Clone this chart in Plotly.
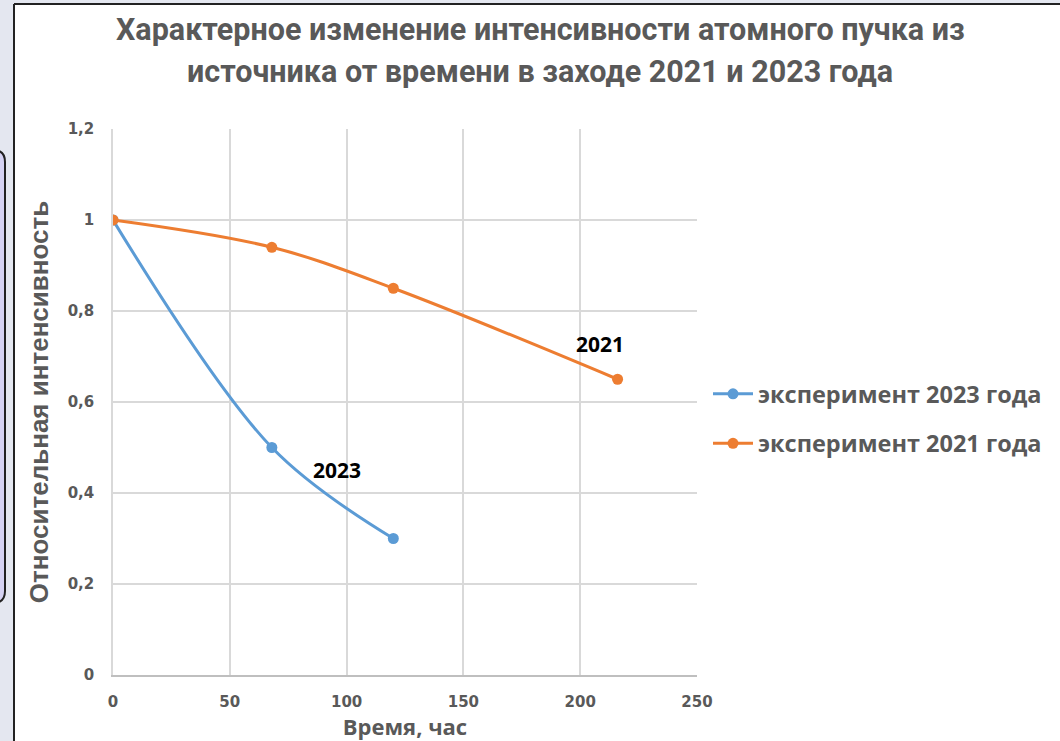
import plotly.graph_objects as go

# Data
hours_2023 = [0, 68, 120]
intensity_2023 = [1.0, 0.5, 0.3]
hours_2021 = [0, 68, 120, 216]
intensity_2021 = [1.0, 0.94, 0.85, 0.65]
name_2023 = "эксперимент 2023 года"
name_2021 = "эксперимент 2021 года"
title_lines = ["Характерное изменение интенсивности атомного пучка из",
               "источника от времени в заходе 2021 и 2023 года"]
x_title = "Время, час"
y_title = "Относительная интенсивность"
x_ticks = [0, 50, 100, 150, 200, 250]
y_ticks = [0, 0.2, 0.4, 0.6, 0.8, 1.0, 1.2]

W, H = 1060, 741
ML, MR, MT, MB = 113, 363, 129, 66
PW, PH = W - ML - MR, H - MT - MB

def fx(px):
    return (px - ML) / PW

def fy(py):
    return (H - MB - py) / PH

BLUE = "#5b9bd5"
ORANGE = "#ed7d31"
GRAY = "#595959"

fig = go.Figure()
fig.add_trace(go.Scatter(x=hours_2023, y=intensity_2023, name=name_2023, mode="lines+markers",
                         legendgroup="a",
                         line=dict(color=BLUE, width=3, shape="spline", smoothing=1.0),
                         marker=dict(size=11, color=BLUE)))
fig.add_trace(go.Scatter(x=hours_2021, y=intensity_2021, name=name_2021, mode="lines+markers",
                         legendgroup="b",
                         line=dict(color=ORANGE, width=3, shape="spline", smoothing=1.0),
                         marker=dict(size=11, color=ORANGE)))

tick_font = dict(family="DejaVu Sans", size=15, color=GRAY, weight="bold")

fig.update_layout(
    width=W, height=H,
    margin=dict(l=ML, r=MR, t=MT, b=MB),
    paper_bgcolor="white", plot_bgcolor="white",
    separators=", ",
    xaxis=dict(range=[0, 250], tickvals=x_ticks, showgrid=True, gridcolor="#d9d9d9", gridwidth=1.5,
               zeroline=False, showline=True, linecolor="#bfbfbf", linewidth=2, automargin=False,
               tickfont=tick_font, ticks="", ticklabelstandoff=12,
               title=dict(text=x_title, standoff=9,
                          font=dict(family="Open Sans", size=22, color=GRAY, weight="bold"))),
    yaxis=dict(range=[0, 1.2], tickvals=y_ticks, showgrid=True, gridcolor="#d9d9d9", gridwidth=1.5,
               zeroline=False, showline=True, linecolor="#d9d9d9", linewidth=1.5, automargin=False,
               tickfont=tick_font, ticks="", ticklabelstandoff=14,
               title=dict(text=y_title, standoff=12,
                          font=dict(family="Liberation Sans", size=26, color=GRAY, weight="bold"))),
    legend=dict(x=fx(708), y=fy(419), xanchor="left", yanchor="middle",
                font=dict(family="Open Sans", size=23.5, color=GRAY, weight="bold"),
                bgcolor="rgba(0,0,0,0)", traceorder="grouped", tracegroupgap=16, itemwidth=40),
    showlegend=True,
)

# title as two lines
for line, py in zip(title_lines, [30, 72]):
    fig.add_annotation(xref="paper", yref="paper", x=fx(540), y=fy(py), xanchor="center", yanchor="middle",
                       text=f"<b>{line}</b>", showarrow=False,
                       font=dict(family="Roboto", size=30.5, color=GRAY))

# series labels
fig.add_annotation(x=hours_2021[-1], y=intensity_2021[-1], text="<b>2021</b>", showarrow=False,
                   xshift=-18, yshift=35, font=dict(family="Open Sans", size=21, color="black"))
fig.add_annotation(x=hours_2023[1], y=intensity_2023[1], text="<b>2023</b>", showarrow=False,
                   xshift=65, yshift=-22, font=dict(family="Open Sans", size=21, color="black"))

# frame / background decoration
shapes = []
shapes.append(dict(type="rect", xref="paper", yref="paper", x0=fx(0), x1=fx(14), y0=fy(H), y1=fy(0),
                   fillcolor="#e4e7f0", line=dict(width=0), layer="below"))
shapes.append(dict(type="rect", xref="paper", yref="paper", x0=fx(0), x1=fx(W), y0=fy(4), y1=fy(0),
                   fillcolor="#e4e7f0", line=dict(width=0), layer="below"))
x0, x1, y0, y1, r = fx(-30), fx(5), fy(603), fy(150), 12
rx, ry = r / PW, r / PH
path = (f"M {x0},{y1} L {x1-rx},{y1} Q {x1},{y1} {x1},{y1-ry} "
        f"L {x1},{y0+ry} Q {x1},{y0} {x1-rx},{y0} L {x0},{y0} Z")
shapes.append(dict(type="path", xref="paper", yref="paper", path=path,
                   fillcolor="#d5d2f3", line=dict(color="#222222", width=2), layer="below"))
shapes.append(dict(type="line", xref="paper", yref="paper", x0=fx(14), x1=fx(14), y0=fy(H), y1=fy(4),
                   line=dict(color="#222222", width=2)))
shapes.append(dict(type="line", xref="paper", yref="paper", x0=fx(14), x1=fx(W), y0=fy(4), y1=fy(4),
                   line=dict(color="#222222", width=2)))
fig.update_layout(shapes=shapes)

fig.write_html("out.html", config={"displayModeBar": False},
               post_script="document.body.style.margin='0';document.body.style.overflow='hidden';")
